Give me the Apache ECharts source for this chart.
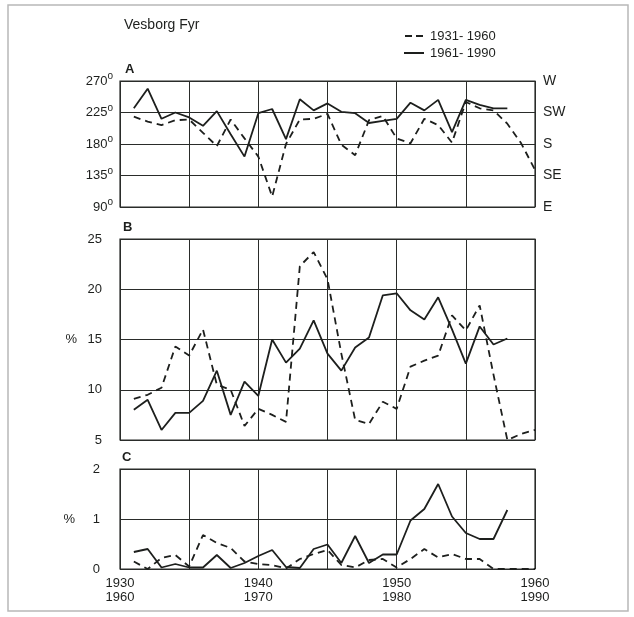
<!DOCTYPE html>
<html><head><meta charset="utf-8">
<script src="https://cdn.jsdelivr.net/npm/echarts/dist/echarts.min.js"></script>
<style>html,body{margin:0;padding:0;background:#fff}#c{width:634px;height:617px}</style>
</head><body><div id="c"></div>
<script>
// Years (1931-1960 period plotted directly; 1961-1990 period plotted on the same positions, 30 years earlier)
const yearsEarly = [1931,1932,1933,1934,1935,1936,1937,1938,1939,1940,1941,1942,1943,1944,1945,1946,1947,1948,1949,1950,1951,1952,1953,1954,1955,1956,1957,1958,1959,1960];
const yearsLate  = [1931,1932,1933,1934,1935,1936,1937,1938,1939,1940,1941,1942,1943,1944,1945,1946,1947,1948,1949,1950,1951,1952,1953,1954,1955,1956,1957,1958];

// Panel A: wind direction (degrees)
const dirEarly = [219,212,207,214,215,196,177,215,188,162,105,180,215,216,223,179,164,214,220,188,181,216,207,182,240,231,228,209,181,143];
const dirLate  = [231,259,216,225,218,206,227,194,162,224,230,187,244,228,238,226,224,210,213,216,239,228,243,197,243,236,231,231];

// Panel B: %
const pctBEarly = [9.1,9.5,10.2,14.3,13.4,16.0,10.5,10.0,6.4,8.1,7.5,6.8,22.3,23.7,21.0,13.6,7.0,6.6,8.8,8.1,12.3,12.9,13.4,17.4,15.9,18.4,11.5,5.0,5.6,6.0];
const pctBLate  = [8.0,9.0,6.0,7.7,7.7,8.9,11.9,7.5,10.8,9.4,15.0,12.7,14.1,16.9,13.6,11.9,14.2,15.2,19.4,19.6,17.9,17.0,19.2,16.0,12.6,16.3,14.5,15.1];

// Panel C: %
const pctCEarly = [0.15,0.0,0.22,0.28,0.05,0.68,0.52,0.42,0.15,0.10,0.08,0.01,0.20,0.30,0.38,0.08,0.03,0.18,0.20,0.03,0.20,0.40,0.23,0.30,0.20,0.20,0.0,0.0,0.0,0.0];
const pctCLate  = [0.34,0.40,0.03,0.10,0.03,0.03,0.28,0.02,0.12,0.26,0.38,0.04,0.02,0.40,0.49,0.12,0.66,0.12,0.29,0.29,0.97,1.20,1.70,1.05,0.72,0.60,0.60,1.18];

// Tick labels
const xTopLabels = ['1930','1940','1950','1960'];
const xBottomLabels = ['1960','1970','1980','1990'];
const dirTickValues = [90,135,180,225,270];
const dirTickNames = ['E','SE','S','SW','W'];
const seriesNames = ['1931- 1960','1961- 1990'];
const titleText = 'Vesborg Fyr';

const pair = (xs, ys) => xs.map((x, i) => [x, ys[i]]);

const INK = '#1d1f1d';
const GRIDC = '#2a2c2a';
const FONT = 'Liberation Sans, Arial, sans-serif';

const chart = echarts.init(document.getElementById('c'), null, {renderer: 'canvas'});

function xAxis(gridIndex, showLabels) {
  return {
    type: 'value', gridIndex, min: 1930, max: 1960, interval: 5,
    axisLine: {show: false}, axisTick: {show: false},
    splitLine: {show: true, lineStyle: {color: GRIDC, width: 1}},
    axisLabel: {
      show: showLabels, margin: 7, color: INK, fontSize: 13, fontFamily: FONT, lineHeight: 14,
      formatter: v => {
        if ((v - 1930) % 10 !== 0) return '';
        const i = (v - 1930) / 10;
        return xTopLabels[i] + '\n' + xBottomLabels[i];
      }
    }
  };
}

const lineSolid = {color: INK, width: 1.8, type: 'solid'};
const lineDash = {color: INK, width: 1.8, type: [7, 5]};

function series(name, xi, yi, data, dashed) {
  return {
    name, type: 'line', xAxisIndex: xi, yAxisIndex: yi, data,
    symbol: 'none', showSymbol: false, silent: true, animation: false,
    lineStyle: dashed ? lineDash : lineSolid,
    itemStyle: {color: INK}
  };
}

const option = {
  backgroundColor: '#fff',
  animation: false,
  title: {
    text: titleText, left: 119, top: 13,
    textStyle: {fontSize: 14, fontWeight: 'normal', color: INK, fontFamily: FONT}
  },
  legend: {
    data: [
      {name: seriesNames[0], icon: 'path://M0 0H7V2H0Z M11 0H18V2H11Z'},
      {name: seriesNames[1], icon: 'path://M0 0H20V2H0Z'}
    ],
    orient: 'vertical', left: 399, top: 24,
    itemWidth: 20, itemHeight: 2, itemGap: 3,
    itemStyle: {color: INK, borderWidth: 0},
    textStyle: {fontSize: 13, color: INK, fontFamily: FONT, lineHeight: 14, padding: [0, 0, 0, 1]},
    selectedMode: false
  },
  grid: [
    {left: 120, top: 81, width: 415, height: 126, show: true, borderColor: GRIDC, borderWidth: 1.2, backgroundColor: 'transparent'},
    {left: 120, top: 239, width: 415, height: 201, show: true, borderColor: GRIDC, borderWidth: 1.2, backgroundColor: 'transparent'},
    {left: 120, top: 469, width: 415, height: 100, show: true, borderColor: GRIDC, borderWidth: 1.2, backgroundColor: 'transparent'}
  ],
  xAxis: [xAxis(0, false), xAxis(1, false), xAxis(2, true)],
  yAxis: [
    {
      type: 'value', gridIndex: 0, min: 90, max: 270, interval: 45, position: 'left',
      name: 'A', nameLocation: 'end', nameGap: 5,
      nameTextStyle: {align: 'left', padding: [0, 0, 0, 5], fontSize: 13, color: INK, fontFamily: FONT, fontWeight: 'bold'},
      axisLine: {show: false}, axisTick: {show: false},
      splitLine: {show: true, lineStyle: {color: GRIDC, width: 1}},
      axisLabel: {
        margin: 7, color: INK, fontFamily: FONT,
        formatter: v => '{n|' + v + '}{d|o}',
        rich: {n: {fontSize: 13, color: INK, fontFamily: FONT}, d: {fontSize: 10, color: INK, fontFamily: FONT, padding: [0, 0, 9, 0]}}
      }
    },
    {
      type: 'value', gridIndex: 0, min: 90, max: 270, interval: 45, position: 'right',
      axisLine: {show: false}, axisTick: {show: false}, splitLine: {show: false},
      axisLabel: {
        margin: 8, color: INK, fontSize: 14, fontFamily: FONT,
        formatter: v => dirTickNames[dirTickValues.indexOf(v)] || ''
      }
    },
    {
      type: 'value', gridIndex: 1, min: 5, max: 25, interval: 5, position: 'left',
      name: 'B', nameLocation: 'end', nameGap: 5,
      nameTextStyle: {align: 'left', padding: [0, 0, 0, 3], fontSize: 13, color: INK, fontFamily: FONT, fontWeight: 'bold'},
      axisLine: {show: false}, axisTick: {show: false},
      splitLine: {show: true, lineStyle: {color: GRIDC, width: 1}},
      axisLabel: {margin: 18, color: INK, fontSize: 13, fontFamily: FONT}
    },
    {
      type: 'value', gridIndex: 1, min: 5, max: 25, interval: 5, position: 'left',
      name: '%', nameLocation: 'middle', nameRotate: 0, nameGap: 43,
      nameTextStyle: {fontSize: 13, color: INK, fontFamily: FONT},
      axisLine: {show: false}, axisTick: {show: false}, splitLine: {show: false},
      axisLabel: {show: false}
    },
    {
      type: 'value', gridIndex: 2, min: 0, max: 2, interval: 1, position: 'left',
      name: 'C', nameLocation: 'end', nameGap: 5,
      nameTextStyle: {align: 'left', padding: [0, 0, 0, 2], fontSize: 13, color: INK, fontFamily: FONT, fontWeight: 'bold'},
      axisLine: {show: false}, axisTick: {show: false},
      splitLine: {show: true, lineStyle: {color: GRIDC, width: 1}},
      axisLabel: {margin: 20, color: INK, fontSize: 13, fontFamily: FONT}
    },
    {
      type: 'value', gridIndex: 2, min: 0, max: 2, interval: 1, position: 'left',
      name: '%', nameLocation: 'middle', nameRotate: 0, nameGap: 45,
      nameTextStyle: {fontSize: 13, color: INK, fontFamily: FONT},
      axisLine: {show: false}, axisTick: {show: false}, splitLine: {show: false},
      axisLabel: {show: false}
    }
  ],
  graphic: [
    {type: 'rect', silent: true, z: -1, shape: {x: 8, y: 5, width: 620, height: 606},
     style: {fill: 'none', stroke: '#b8b8b8', lineWidth: 1.5}}
  ],
  series: [
    series(seriesNames[0], 0, 0, pair(yearsEarly, dirEarly), true),
    series(seriesNames[1], 0, 0, pair(yearsLate, dirLate), false),
    series(seriesNames[0], 1, 2, pair(yearsEarly, pctBEarly), true),
    series(seriesNames[1], 1, 2, pair(yearsLate, pctBLate), false),
    series(seriesNames[0], 2, 4, pair(yearsEarly, pctCEarly), true),
    series(seriesNames[1], 2, 4, pair(yearsLate, pctCLate), false)
  ]
};
chart.setOption(option);
</script>
</body></html>
